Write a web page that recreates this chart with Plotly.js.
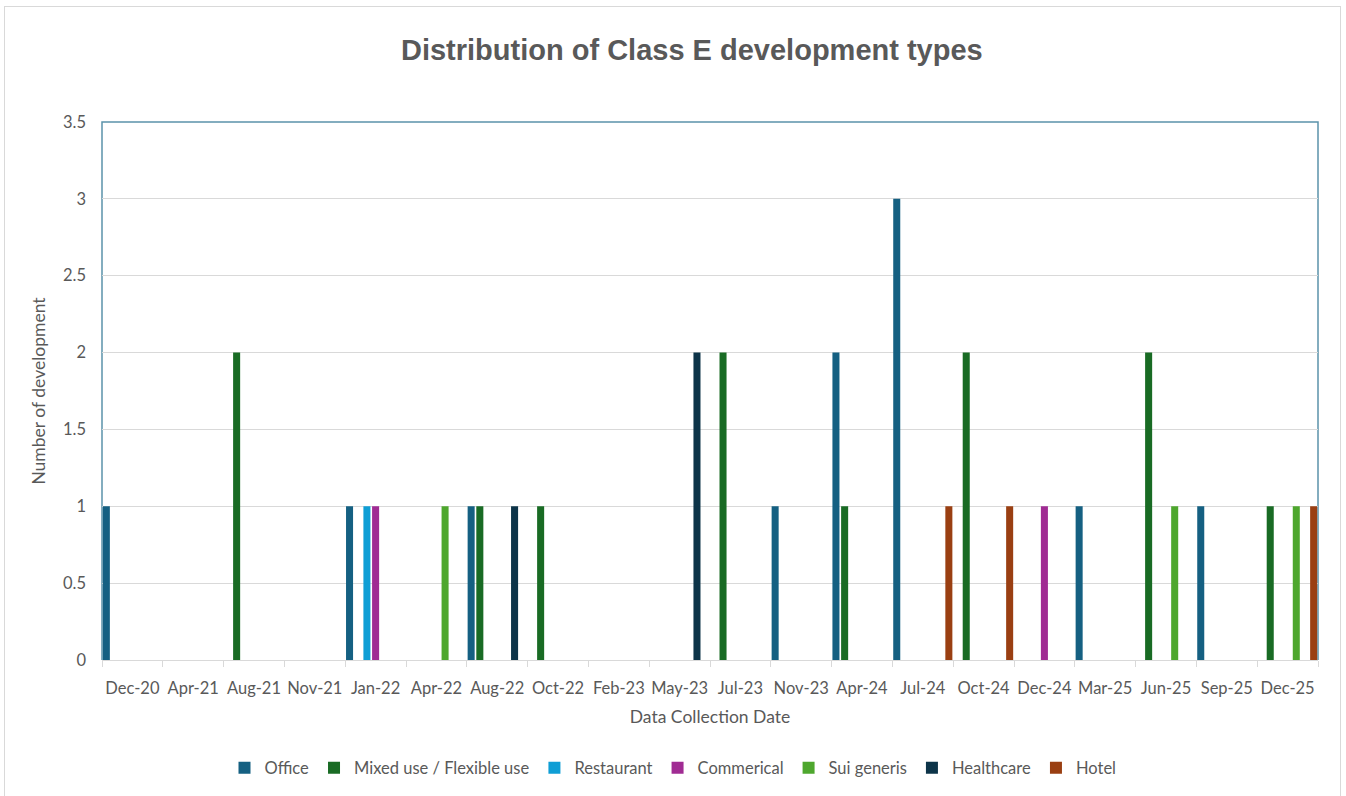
<!DOCTYPE html>
<html>
<head>
<meta charset="utf-8">
<script src="https://cdn.plot.ly/plotly-3.0.1.min.js"></script>
<style>
  html, body { margin: 0; padding: 0; background: #ffffff; }
  #chart { width: 1346px; height: 796px; }
  #frame { position: absolute; left: 4px; top: 6px; width: 1337px; height: 800px; border: 1px solid #d9d9d9; pointer-events: none; box-sizing: border-box; }
</style>
</head>
<body>
<div id="chart"></div>
<div id="frame"></div>
<script>
const categories = ["Dec-20","Apr-21","Aug-21","Nov-21","Jan-22","Apr-22","Aug-22","Oct-22","Feb-23","May-23",
                    "Jul-23","Nov-23","Apr-24","Jul-24","Oct-24","Dec-24","Mar-25","Jun-25","Sep-25","Dec-25"];
const office     = [1,0,0,0,1,0,1,0,0,0, 0,1,2,3,0,0,1,0,1,0];
const mixedUse   = [0,0,2,0,0,0,1,1,0,0, 2,0,1,0,2,0,0,2,0,1];
const restaurant = [0,0,0,0,1,0,0,0,0,0, 0,0,0,0,0,0,0,0,0,0];
const commercial = [0,0,0,0,1,0,0,0,0,0, 0,0,0,0,0,1,0,0,0,0];
const suiGeneris = [0,0,0,0,0,1,0,0,0,0, 0,0,0,0,0,0,0,1,0,1];
const healthcare = [0,0,0,0,0,0,1,0,0,2, 0,0,0,0,0,0,0,0,0,0];
const hotel      = [0,0,0,0,0,0,0,0,0,0, 0,0,0,1,1,0,0,0,0,1];

const seriesNames  = ["Office","Mixed use / Flexible use","Restaurant","Commerical","Sui generis","Healthcare","Hotel"];
const seriesValues = [office, mixedUse, restaurant, commercial, suiGeneris, healthcare, hotel];
const seriesColors = ["#156082","#196B24","#0F9ED5","#A02B93","#4EA72E","#0D3449","#9A3F12"];

const font = "Lato, 'Noto Sans', sans-serif";
const textColor = "#595959";

const traces = seriesNames.map((name, i) => ({
  type: "bar",
  name: name,
  x: categories,
  y: seriesValues[i],
  marker: { color: seriesColors[i], line: { width: 0 } },
  hoverinfo: "skip"
}));

const layout = {
  width: 1346,
  height: 796,
  margin: { l: 102, r: 28, t: 122, b: 136 },
  paper_bgcolor: "#ffffff",
  plot_bgcolor: "#ffffff",
  barmode: "group",
  bargap: 0,
  bargroupgap: 0.19,
  font: { family: font, color: textColor, size: 16 },
  title: {
    text: "Distribution of Class E development types",
    font: { family: "'Liberation Sans', Arial, sans-serif", size: 29, color: textColor, weight: "bold" },
    x: 0.514, xref: "container", xanchor: "center",
    y: 0.937, yref: "container", yanchor: "middle"
  },
  xaxis: {
    type: "category",
    tickson: "boundaries",
    ticks: "outside",
    ticklen: 6,
    tickangle: 0,
    tickcolor: "#d9d9d9",
    showline: true,
    linecolor: "#d9d9d9",
    linewidth: 1,
    showgrid: false,
    ticklabelstandoff: 13,
    tickfont: { family: font, size: 16.5, color: textColor },
    title: { text: "Data Collection Date", font: { family: font, size: 17.5, color: textColor }, standoff: 13 },
    fixedrange: true
  },
  yaxis: {
    range: [0, 3.5],
    dtick: 0.5,
    tick0: 0,
    showgrid: true,
    gridcolor: "#d9d9d9",
    gridwidth: 1,
    zeroline: false,
    showline: false,
    ticks: "",
    ticklabelstandoff: 15,
    tickfont: { family: font, size: 16.5, color: textColor },
    title: { text: "Number of development", font: { family: font, size: 17.5, color: textColor }, standoff: 12 },
    fixedrange: true
  },
  shapes: [{
    type: "path",
    xref: "paper", yref: "paper",
    path: "M0,0 L0,1 L1,1 L1,0",
    line: { color: "#5B93AB", width: 1.5 },
    layer: "below"
  }],
  legend: {
    orientation: "h",
    x: 0.5, xref: "container", xanchor: "center",
    y: 0.035, yref: "container", yanchor: "middle",
    font: { family: font, size: 16.5, color: textColor },
    itemwidth: 30,
    traceorder: "normal"
  },
  showlegend: true
};

Plotly.newPlot("chart", traces, layout, { displayModeBar: false, staticPlot: true });
</script>
</body>
</html>
